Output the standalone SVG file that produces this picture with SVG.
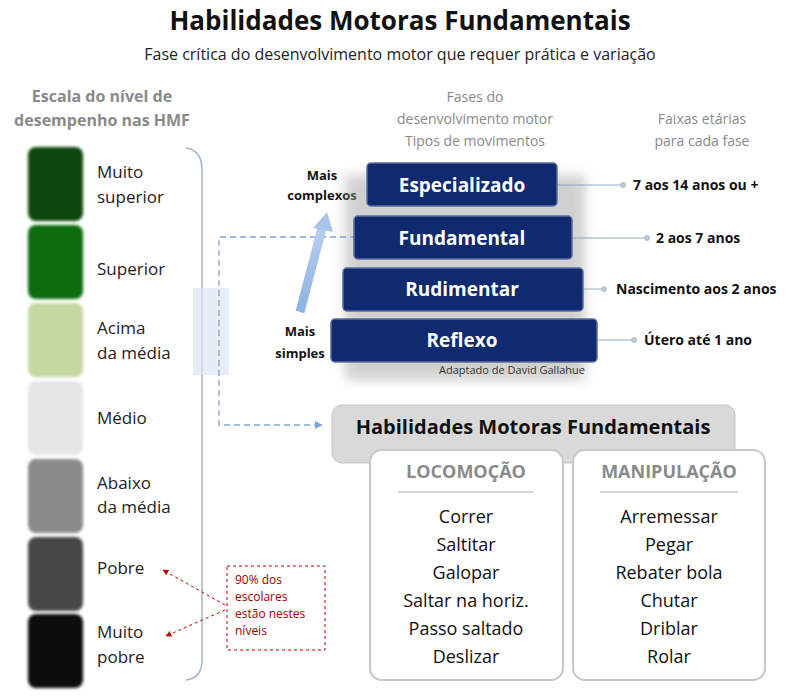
<svg xmlns="http://www.w3.org/2000/svg" width="800" height="697" viewBox="0 0 800 697">
<defs>
<style>
text{font-family:"Open Sans","DejaVu Sans",sans-serif}
.sq{filter:url(#blur)}
.lvl{font-size:17px;fill:#222}
.bar{fill:#0f2a6e;stroke:#5a6d9c;stroke-width:1.5}
.bt{font-size:19px;font-weight:bold;fill:#fff;text-anchor:middle}
.age{font-size:14px;font-weight:bold;fill:#111}
.hd{font-size:14px;fill:#8a8a8a;text-anchor:middle}
.it{font-size:18px;fill:#111;text-anchor:middle}
.gl{stroke:#b8c6d6;stroke-width:1.5}
</style>
<filter id="blur"><feGaussianBlur stdDeviation="1.5"/></filter>
<filter id="sh" x="-20%" y="-20%" width="140%" height="160%"><feGaussianBlur stdDeviation="6"/></filter>
<marker id="ba" viewBox="0 0 10 10" refX="9" refY="5" markerWidth="6" markerHeight="6" orient="auto"><path d="M0,0L10,5L0,10z" fill="#7ea6d8"/></marker>
<marker id="ra" viewBox="0 0 10 10" refX="9" refY="5" markerWidth="6" markerHeight="6" orient="auto"><path d="M0,0L10,5L0,10z" fill="#c00000"/></marker>
<linearGradient id="arr" x1="0" y1="1" x2="0" y2="0"><stop offset="0" stop-color="#8db3e2"/><stop offset="1" stop-color="#b7cff0"/></linearGradient>
</defs>
<rect width="800" height="697" fill="#fff"/>
<text x="400" y="30" font-size="26" font-weight="bold" text-anchor="middle" fill="#111">Habilidades Motoras Fundamentais</text>
<text x="400" y="60" font-size="16" text-anchor="middle" fill="#222">Fase crítica do desenvolvimento motor que requer prática e variação</text>
<text x="102" y="102" font-size="16" font-weight="bold" fill="#8a8a8a" text-anchor="middle">Escala do nível de</text>
<text x="102" y="126" font-size="16" font-weight="bold" fill="#8a8a8a" text-anchor="middle">desempenho nas HMF</text>
<g id="scale">
<rect class="sq" x="28" y="147" width="55" height="74" rx="8" fill="#0b470b"/>
<rect class="sq" x="28" y="225" width="55" height="74" rx="8" fill="#0b6c0b"/>
<rect class="sq" x="28" y="303" width="55" height="74" rx="8" fill="#c4d8a2"/>
<rect class="sq" x="28" y="381" width="55" height="74" rx="8" fill="#e6e6e6"/>
<rect class="sq" x="28" y="459" width="55" height="74" rx="8" fill="#8a8a8a"/>
<rect class="sq" x="28" y="537" width="55" height="74" rx="8" fill="#474747"/>
<rect class="sq" x="28" y="614" width="55" height="74" rx="8" fill="#0d0d0d"/>
<text class="lvl" x="97" y="178">Muito</text><text class="lvl" x="97" y="203">superior</text>
<text class="lvl" x="97" y="275">Superior</text>
<text class="lvl" x="97" y="334">Acima</text><text class="lvl" x="97" y="359">da média</text>
<text class="lvl" x="97" y="424">Médio</text>
<text class="lvl" x="97" y="489">Abaixo</text><text class="lvl" x="97" y="513">da média</text>
<text class="lvl" x="97" y="574">Pobre</text>
<text class="lvl" x="97" y="638">Muito</text><text class="lvl" x="97" y="663">pobre</text>
<path d="M186,148 Q202,150 202,170 V660 Q202,678 186,680" fill="none" stroke="#9db5d0" stroke-width="1.5"/>
<rect x="193" y="288" width="36" height="87" fill="#dce6f4" opacity="0.7"/>
</g>
<g id="connectors">
<path d="M376,237 H219 V425 H322" fill="none" stroke="#7ea6d8" stroke-width="1.3" stroke-dasharray="6,4" marker-end="url(#ba)"/>
<path d="M300,312 L322,228" stroke="url(#arr)" stroke-width="9" fill="none"/>
<path d="M313,228 L327,212 L333,232 z" fill="#a9c5ec"/>
<line class="gl" x1="557" y1="185" x2="623" y2="185"/><circle cx="623" cy="185" r="3" fill="#b8c6d6"/>
<line class="gl" x1="572" y1="238" x2="647" y2="238"/><circle cx="647" cy="238" r="3" fill="#b8c6d6"/>
<line class="gl" x1="583" y1="289" x2="604" y2="289"/><circle cx="604" cy="289" r="3" fill="#b8c6d6"/>
<line class="gl" x1="597" y1="340" x2="634" y2="340"/><circle cx="634" cy="340" r="3" fill="#b8c6d6"/>
<line x1="225" y1="605" x2="163" y2="570" stroke="#c00000" stroke-width="1" stroke-dasharray="3,3" marker-end="url(#ra)"/>
<line x1="225" y1="610" x2="166" y2="636" stroke="#c00000" stroke-width="1" stroke-dasharray="3,3" marker-end="url(#ra)"/>
</g>
<text class="hd" x="475" y="102">Fases do</text>
<text class="hd" x="475" y="124">desenvolvimento motor</text>
<text class="hd" x="475" y="146">Tipos de movimentos</text>
<text class="hd" x="702" y="124">Faixas etárias</text>
<text class="hd" x="702" y="146">para cada fase</text>
<text x="322" y="180" font-size="13" font-weight="bold" text-anchor="middle" fill="#111">Mais</text>
<text x="322" y="200" font-size="13" font-weight="bold" text-anchor="middle" fill="#111">complexos</text>
<text x="300" y="336" font-size="13" font-weight="bold" text-anchor="middle" fill="#111">Mais</text>
<text x="300" y="358" font-size="13" font-weight="bold" text-anchor="middle" fill="#111">simples</text>
<g id="pyramid">
<rect x="345" y="175" width="240" height="205" fill="#999" opacity="0.45" filter="url(#sh)"/>
<g id="especializado"><rect class="bar" x="367" y="163" width="190" height="43" rx="4"/><text class="bt" x="462" y="192">Especializado</text></g>
<g id="fundamental"><rect class="bar" x="354" y="216" width="218" height="43" rx="4"/><text class="bt" x="462" y="245">Fundamental</text></g>
<g id="rudimentar"><rect class="bar" x="343" y="268" width="240" height="43" rx="4"/><text class="bt" x="462" y="296">Rudimentar</text></g>
<g id="reflexo"><rect class="bar" x="331" y="319" width="266" height="43" rx="4"/><text class="bt" x="462" y="347">Reflexo</text></g>
<text x="512" y="374" font-size="11" text-anchor="middle" fill="#333">Adaptado de David Gallahue</text>
</g>
<text class="age" x="633" y="190">7 aos 14 anos ou +</text>
<text class="age" x="656" y="243">2 aos 7 anos</text>
<text class="age" x="616" y="294">Nascimento aos 2 anos</text>
<text class="age" x="644" y="345">Útero até 1 ano</text>
<g id="hmf"><rect x="332" y="405" width="403" height="58" rx="10" fill="#d9d9d9" stroke="#c4c4c4"/><text x="533" y="434" font-size="20" font-weight="bold" text-anchor="middle" fill="#111">Habilidades Motoras Fundamentais</text></g>
<g id="locomocao"><rect x="370" y="450" width="193" height="230" rx="12" fill="#fff" stroke="#c8c8c8" stroke-width="2"/>
<text x="466" y="478" font-size="18" font-weight="bold" text-anchor="middle" fill="#8a8a8a">LOCOMOÇÃO</text>
<line x1="398" y1="492" x2="533" y2="492" stroke="#aaa"/>
<text class="it" x="466" y="523">Correr</text><text class="it" x="466" y="551">Saltitar</text><text class="it" x="466" y="579">Galopar</text><text class="it" x="466" y="607">Saltar na horiz.</text><text class="it" x="466" y="635">Passo saltado</text><text class="it" x="466" y="663">Deslizar</text></g>
<g id="manipulacao"><rect x="573" y="450" width="192" height="230" rx="12" fill="#fff" stroke="#c8c8c8" stroke-width="2"/>
<text x="669" y="478" font-size="18" font-weight="bold" text-anchor="middle" fill="#8a8a8a">MANIPULAÇÃO</text>
<line x1="600" y1="492" x2="738" y2="492" stroke="#aaa"/>
<text class="it" x="669" y="523">Arremessar</text><text class="it" x="669" y="551">Pegar</text><text class="it" x="669" y="579">Rebater bola</text><text class="it" x="669" y="607">Chutar</text><text class="it" x="669" y="635">Driblar</text><text class="it" x="669" y="663">Rolar</text></g>
<g id="note"><rect x="227" y="566" width="98" height="84" fill="none" stroke="#c00000" stroke-dasharray="3,3"/>
<text font-size="12" fill="#a00000"><tspan x="235" y="584">90% dos</tspan><tspan x="235" y="601">escolares</tspan><tspan x="235" y="618">estão nestes</tspan><tspan x="235" y="635">níveis</tspan></text></g>
</svg>
